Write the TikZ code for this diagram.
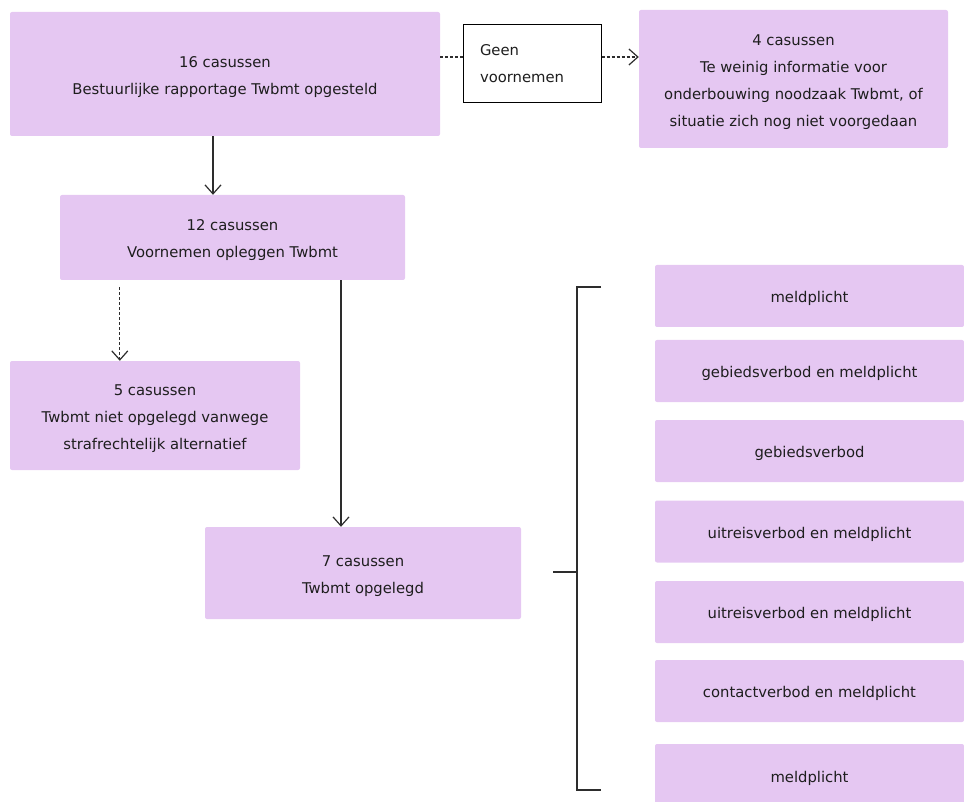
\documentclass[tikz,border=0pt]{standalone}
\usepackage{fontspec}
\setmainfont{DejaVu Sans}
\usepackage{tikz}
\usetikzlibrary{arrows.meta}
\definecolor{lila}{RGB}{229,199,242}
\definecolor{lijn}{RGB}{45,45,45}
\definecolor{tekst}{RGB}{30,30,30}
\newcommand{\omhoog}{\rule{0pt}{17pt}}
\tikzset{kader/.style={fill=lila,rounded corners=2pt,align=center,text=tekst,
           font=\fontsize{14.8}{27}\selectfont,inner sep=0pt},
         keuze/.style={draw=black,fill=white,line width=1pt,text=tekst,align=left,
           font=\fontsize{14.8}{27}\selectfont,text width=104pt,inner xsep=17pt,
           minimum height=78pt},
         pijl/.style={lijn,line width=1.2pt,-{Straight Barb[length=9pt,width=16pt]}},
         stip/.style={dash pattern=on 3pt off 2pt}}
\begin{document}
\begin{tikzpicture}[x=1pt,y=-1pt]
\useasboundingbox (0,0) rectangle (964,802);
% bovenste rij
\node[kader,minimum width=430pt,minimum height=124pt] (rapport) at (225,74)
  {\omhoog 16 casussen\\Bestuurlijke rapportage Twbmt opgesteld};
\node[keuze] (geen) at (532,64) {Geen\\voornemen};
\node[kader,minimum width=309pt,minimum height=138pt] (weinig) at (793.5,79)
  {\omhoog 4 casussen\\Te weinig informatie voor\\onderbouwing noodzaak Twbmt, of\\situatie zich nog niet voorgedaan};
% midden
\node[kader,minimum width=345pt,minimum height=85pt] (voornemen) at (232.5,237.5)
  {\omhoog 12 casussen\\Voornemen opleggen Twbmt};
\node[kader,minimum width=290pt,minimum height=109pt] (straf) at (155,415.5)
  {\omhoog 5 casussen\\Twbmt niet opgelegd vanwege\\strafrechtelijk alternatief};
\node[kader,minimum width=316pt,minimum height=92pt] (opgelegd) at (363,573)
  {\omhoog 7 casussen\\Twbmt opgelegd};
% maatregelen
\node[kader,minimum width=309pt,minimum height=62pt] (m1) at (809.5,296) {\omhoog meldplicht};
\node[kader,minimum width=309pt,minimum height=62pt] (m2) at (809.5,371) {\omhoog gebiedsverbod en meldplicht};
\node[kader,minimum width=309pt,minimum height=62pt] (m3) at (809.5,451) {\omhoog gebiedsverbod};
\node[kader,minimum width=309pt,minimum height=62pt] (m4) at (809.5,531.5) {\omhoog uitreisverbod en meldplicht};
\node[kader,minimum width=309pt,minimum height=62pt] (m5) at (809.5,612) {\omhoog uitreisverbod en meldplicht};
\node[kader,minimum width=309pt,minimum height=62pt] (m6) at (809.5,691) {\omhoog contactverbod en meldplicht};
\node[kader,minimum width=309pt,minimum height=64pt] (m7) at (809.5,776) {\omhoog meldplicht};
% verbindingen
\coordinate (gl) at ([yshift=7pt]geen.west);
\coordinate (gr) at ([yshift=7pt]geen.east);
\draw[lijn,line width=1.2pt,stip] (gl -| rapport.east) -- (gl);
\draw[pijl,stip] (gr) -- (gr -| weinig.west);
\coordinate (r1) at ([xshift=-12pt]rapport.south);
\draw[pijl] (r1) -- (r1 |- voornemen.north);
\coordinate (v1) at ([xshift=60pt,yshift=-7pt]voornemen.south west);
\draw[pijl,stip] (v1) -- (v1 |- straf.north);
\coordinate (o1) at ([xshift=-22pt]opgelegd.north);
\draw[pijl] (o1 |- voornemen.south) -- (o1);
% haak
\coordinate (hb) at (577,287);
\coordinate (hm) at (577,572);
\coordinate (ho) at (577,790);
\draw[lijn,line width=1.2pt] (hm) -- ++(-24,0);
\draw[lijn,line width=1.2pt] ([xshift=24pt]hb) -- (hb) -- (ho) -- ++(24,0);
\end{tikzpicture}
\end{document}
